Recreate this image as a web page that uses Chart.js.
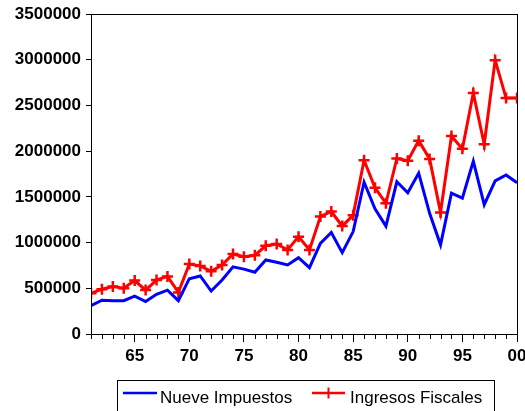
<!DOCTYPE html>
<html>
<head>
<meta charset="utf-8">
<script src="https://cdn.jsdelivr.net/npm/chart.js@4/dist/chart.umd.min.js"></script>
<style>
  html, body { margin: 0; padding: 0; background: #fff; }
  #wrap { position: relative; width: 525px; height: 411px; }
</style>
</head>
<body>
<div id="wrap"><canvas id="c" width="525" height="411"></canvas></div>
<script>
const years = [1961,1962,1963,1964,1965,1966,1967,1968,1969,1970,
               1971,1972,1973,1974,1975,1976,1977,1978,1979,1980,
               1981,1982,1983,1984,1985,1986,1987,1988,1989,1990,
               1991,1992,1993,1994,1995,1996,1997,1998,1999,2000];
const nueveImpuestos = [310000,370000,365000,365000,415000,355000,435000,480000,365000,605000,
                        635000,470000,590000,735000,710000,675000,810000,785000,755000,835000,
                        725000,990000,1110000,890000,1120000,1660000,1370000,1180000,1665000,1545000,
                        1760000,1320000,975000,1540000,1485000,1890000,1415000,1675000,1740000,1655000];
const ingresosFiscales = [445000,490000,520000,500000,585000,480000,590000,630000,455000,765000,
                          745000,685000,755000,875000,845000,860000,965000,985000,920000,1065000,
                          920000,1285000,1340000,1180000,1300000,1900000,1600000,1430000,1920000,1895000,
                          2115000,1915000,1330000,2165000,2025000,2635000,2075000,2995000,2580000,2580000];
const seriesNames = ['Nueve Impuestos', 'Ingresos Fiscales'];
const yTicks = [0,500000,1000000,1500000,2000000,2500000,3000000,3500000];

const FONT = "'Liberation Sans', Arial, Helvetica, sans-serif";

const boxPlugin = {
  id: 'boxPlugin',
  afterDraw(chart) {
    const ctx = chart.ctx;
    const a = chart.chartArea;
    ctx.save();
    // full frame
    ctx.strokeStyle = '#000';
    ctx.lineWidth = 1;
    ctx.strokeRect(Math.round(a.left) + 0.5, Math.round(a.top) + 0.5,
                   Math.round(a.right - a.left), Math.round(a.bottom - a.top));
    // minor x ticks
    const xs = chart.scales.x;
    ctx.beginPath();
    xs.ticks.forEach(t => {
      if (t.value % 5 !== 0) {
        const px = Math.round(xs.getPixelForValue(t.value)) + 0.5;
        ctx.moveTo(px, Math.round(a.bottom));
        ctx.lineTo(px, Math.round(a.bottom) + 5);
      }
    });
    ctx.stroke();

    // legend
    const ds = chart.data.datasets;
    const lx = 117.5, ly = 380.5, lw = 377, lh = 40;
    ctx.strokeStyle = '#000';
    ctx.lineWidth = 1;
    ctx.strokeRect(lx, ly, lw, lh);
    ctx.font = '17px ' + FONT;
    ctx.fillStyle = '#000';
    ctx.textBaseline = 'alphabetic';
    const items = [{x0: 123, x1: 157, tx: 160}, {x0: 312, x1: 345, tx: 350}];
    const yy = 393;
    items.forEach((it, i) => {
      const d = ds[i];
      ctx.strokeStyle = d.borderColor;
      ctx.lineWidth = 2.5;
      ctx.beginPath();
      ctx.moveTo(it.x0, yy);
      ctx.lineTo(it.x1, yy);
      ctx.stroke();
      if (d.pointStyle === 'cross' && d.pointRadius > 0) {
        const cx = (it.x0 + it.x1) / 2;
        ctx.lineWidth = 2;
        ctx.beginPath();
        ctx.moveTo(cx, yy - 5.5);
        ctx.lineTo(cx, yy + 5.5);
        ctx.stroke();
      }
      ctx.fillStyle = '#000';
      ctx.fillText(d.label, it.tx, 403);
    });
    ctx.restore();
  }
};

new Chart(document.getElementById('c'), {
  type: 'line',
  data: {
    datasets: [
      {
        label: seriesNames[0],
        data: years.map((y, i) => ({x: y, y: nueveImpuestos[i]})),
        borderColor: '#0000FF',
        backgroundColor: '#0000FF',
        borderWidth: 3,
        pointRadius: 0,
        pointHoverRadius: 0,
        tension: 0
      },
      {
        label: seriesNames[1],
        data: years.map((y, i) => ({x: y, y: ingresosFiscales[i]})),
        borderColor: '#FF0000',
        backgroundColor: '#FF0000',
        borderWidth: 3,
        pointStyle: 'cross',
        pointRadius: 5.5,
        pointBorderWidth: 2.5,
        pointBorderColor: '#FF0000',
        pointHoverRadius: 5.5,
        tension: 0
      }
    ]
  },
  options: {
    responsive: false,
    animation: false,
    devicePixelRatio: 1,
    layout: { padding: { left: 0, right: 7, top: 14, bottom: 0 } },
    plugins: {
      legend: { display: false },
      tooltip: { enabled: false },
      title: { display: false }
    },
    scales: {
      x: {
        type: 'linear',
        min: 1961,
        max: 2000,
        grid: { drawOnChartArea: false, drawTicks: true, tickLength: 8, tickWidth: 1,
                tickColor: (c) => (c.tick && c.tick.value % 5 === 0) ? '#000' : 'rgba(0,0,0,0)' },
        border: { display: true, color: '#000', width: 1 },
        ticks: {
          stepSize: 1,
          autoSkip: false,
          maxRotation: 0,
          minRotation: 0,
          padding: 4,
          color: '#000',
          font: { family: FONT, size: 17, weight: 'bold' },
          callback: (v) => (v % 5 === 0) ? String(v).slice(2) : ''
        },
        afterFit(s) { s.height = 77; s.paddingLeft = 0; s.paddingRight = 0; }
      },
      y: {
        min: 0,
        max: 3500000,
        afterBuildTicks(s) { s.ticks = yTicks.map(v => ({value: v})); },
        grid: { drawOnChartArea: false, drawTicks: true, tickLength: 5, color: '#000' },
        border: { display: true, color: '#000', width: 1 },
        ticks: {
          padding: 5,
          color: '#000',
          font: { family: FONT, size: 17, weight: 'bold' },
          callback: (v) => String(v)
        },
        afterFit(s) { s.width = 91; s.paddingTop = 0; s.paddingBottom = 0; }
      }
    }
  },
  plugins: [boxPlugin]
});
</script>
</body>
</html>
